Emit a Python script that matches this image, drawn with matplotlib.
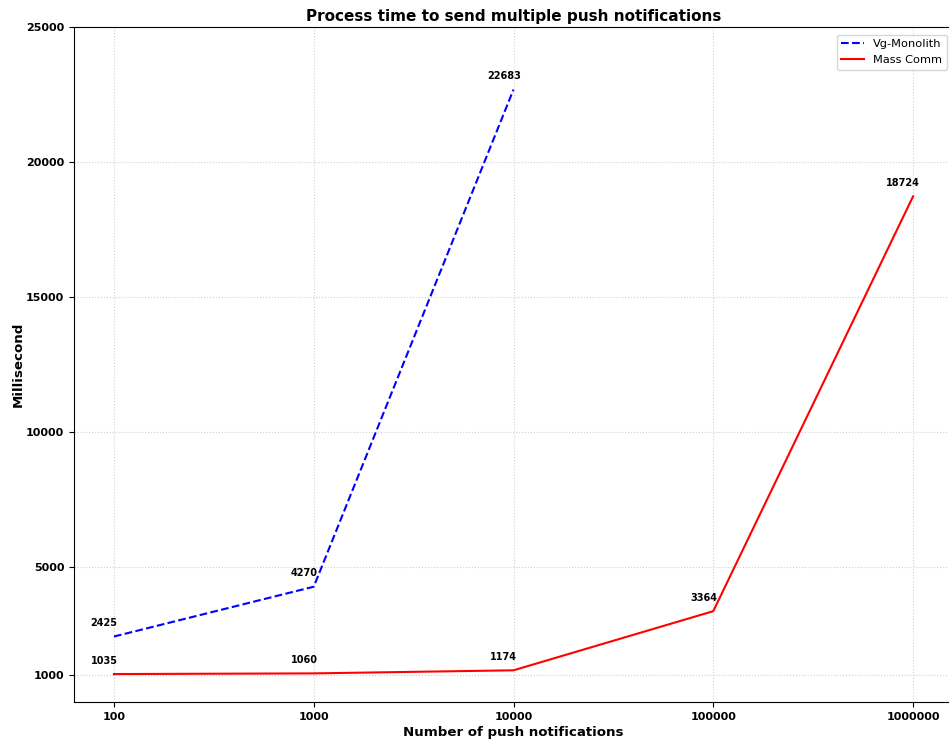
import matplotlib.pyplot as plt

# data
vg_x = [100, 1000, 10000]
vg_y = [2425, 4270, 22683]
mc_x = [100, 1000, 10000, 100000, 1000000]
mc_y = [1035, 1060, 1174, 3364, 18724]
x_ticks = [100, 1000, 10000, 100000, 1000000]
y_ticks = [1000, 5000, 10000, 15000, 20000, 25000]

fig = plt.figure(figsize=(9.49, 7.45), dpi=100)
# axes runs past the right edge, like the reference crop
ax = fig.add_axes([74/949, 43/745, 879/949, 675/745])

ax.plot(vg_x, vg_y, color='b', linestyle='--', linewidth=1.5, label='Vg-Monolith')
ax.plot(mc_x, mc_y, color='r', linestyle='-', linewidth=1.5, label='Mass Comm')

for xs, ys in [(vg_x, vg_y), (mc_x, mc_y)]:
    for x, y in zip(xs, ys):
        ax.annotate(str(y), (x, y), textcoords='offset points', xytext=(-7, 6),
                    ha='center', va='bottom', fontsize=7, fontweight='bold')

ax.set_xscale('log')
ax.set_xticks(x_ticks)
ax.set_xticklabels([str(t) for t in x_ticks])
ax.minorticks_off()
ax.set_xlim(10**1.8, 10**6.2)
ax.set_yticks(y_ticks)
ax.set_ylim(0, 25000)
ax.tick_params(labelsize=8)
for lab in ax.get_xticklabels() + ax.get_yticklabels():
    lab.set_fontweight('bold')

ax.grid(True, color='#d0d0d0', linestyle=':', linewidth=0.8)
ax.set_title('Process time to send multiple push notifications', fontsize=11, fontweight='bold', pad=4)
ax.set_xlabel('Number of push notifications', fontsize=9.6, fontweight='bold', labelpad=3)
ax.set_ylabel('Millisecond', fontsize=9.6, fontweight='bold', labelpad=1)
ax.legend(loc='upper right', bbox_to_anchor=(0.9995, 0.997), fontsize=8.2)

plt.savefig('out.png', dpi=100)
